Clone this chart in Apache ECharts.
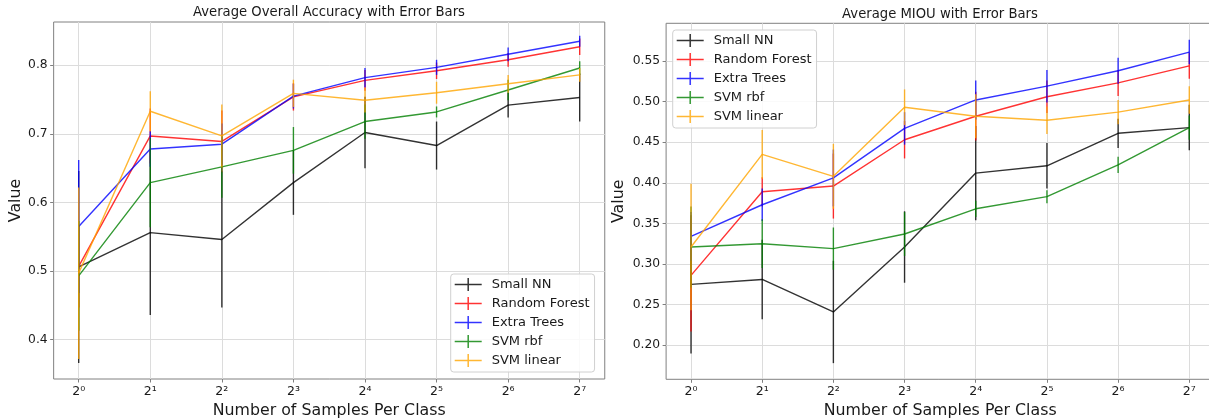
<!DOCTYPE html>
<html>
<head>
<meta charset="utf-8">
<script src="https://cdn.jsdelivr.net/npm/echarts@6/dist/echarts.min.js"></script>
<style>
  html, body { margin: 0; padding: 0; background: #fff; }
  #main { width: 1209px; height: 419px; }
</style>
</head>
<body>
<div id="main"></div>
<script>
// samples per class (x axis is log2 of these)
var samples = [1, 2, 4, 8, 16, 32, 64, 128];
var xTickLabels = ['2⁰', '2¹', '2²', '2³', '2⁴', '2⁵', '2⁶', '2⁷'];
var methods = ['Small NN', 'Random Forest', 'Extra Trees', 'SVM rbf', 'SVM linear'];

// Average overall accuracy (mean / error)
var accSmallNN = [0.506, 0.556, 0.546, 0.629, 0.702, 0.683, 0.742, 0.753];
var accSmallNNErr = [0.140, 0.120, 0.099, 0.047, 0.052, 0.035, 0.018, 0.035];
var accRF = [0.507, 0.697, 0.689, 0.754, 0.778, 0.792, 0.808, 0.827];
var accRFErr = [0.060, 0.040, 0.045, 0.020, 0.015, 0.012, 0.010, 0.012];
var accET = [0.565, 0.678, 0.685, 0.755, 0.782, 0.797, 0.816, 0.835];
var accETErr = [0.097, 0.026, 0.030, 0.018, 0.014, 0.011, 0.010, 0.008];
var accRbf = [0.493, 0.629, 0.652, 0.676, 0.718, 0.732, 0.764, 0.796];
var accRbfErr = [0.080, 0.065, 0.045, 0.034, 0.025, 0.008, 0.015, 0.010];
var accLin = [0.497, 0.733, 0.697, 0.759, 0.749, 0.760, 0.773, 0.786];
var accLinErr = [0.125, 0.029, 0.046, 0.020, 0.018, 0.016, 0.013, 0.010];
var accTicks = [0.4, 0.5, 0.6, 0.7, 0.8];

// Average MIOU (mean / error)
var miouSmallNN = [0.275, 0.281, 0.241, 0.321, 0.412, 0.421, 0.461, 0.468];
var miouSmallNNErr = [0.085, 0.049, 0.063, 0.044, 0.058, 0.028, 0.018, 0.028];
var miouRF = [0.286, 0.389, 0.396, 0.453, 0.482, 0.506, 0.523, 0.544];
var miouRFErr = [0.069, 0.018, 0.040, 0.023, 0.030, 0.020, 0.016, 0.016];
var miouET = [0.334, 0.373, 0.406, 0.467, 0.502, 0.519, 0.538, 0.561];
var miouETErr = [0.030, 0.020, 0.035, 0.020, 0.024, 0.020, 0.016, 0.015];
var miouRbf = [0.321, 0.325, 0.319, 0.337, 0.368, 0.383, 0.422, 0.468];
var miouRbfErr = [0.050, 0.030, 0.026, 0.027, 0.010, 0.008, 0.010, 0.015];
var miouLin = [0.321, 0.435, 0.408, 0.493, 0.482, 0.477, 0.487, 0.502];
var miouLinErr = [0.078, 0.030, 0.040, 0.022, 0.027, 0.017, 0.015, 0.017];
var miouTicks = [0.20, 0.25, 0.30, 0.35, 0.40, 0.45, 0.50, 0.55];

var colors = ['#000000', '#ff0000', '#0000ff', '#008000', '#ffa500'];
var font = 'DejaVu Sans';
var textColor = '#1a1a1a';
var spine = '#808080';

var accMeans = [accSmallNN, accRF, accET, accRbf, accLin];
var accErrs = [accSmallNNErr, accRFErr, accETErr, accRbfErr, accLinErr];
var miouMeans = [miouSmallNN, miouRF, miouET, miouRbf, miouLin];
var miouErrs = [miouSmallNNErr, miouRFErr, miouETErr, miouRbfErr, miouLinErr];

var chart = echarts.init(document.getElementById('main'), null, { renderer: 'canvas' });

function xAxisFor(idx) {
  return {
    type: 'value', gridIndex: idx, min: -0.35, max: 7.35,
    name: 'Number of Samples Per Class', nameLocation: 'middle', nameGap: 24,
    nameTextStyle: { fontFamily: font, fontSize: 15.8, color: textColor },
    axisLine: { show: false, onZero: false },
    axisTick: { show: true, length: 3.5, lineStyle: { color: spine }, customValues: [0, 1, 2, 3, 4, 5, 6, 7] },
    axisLabel: {
      fontFamily: font, fontSize: 12.5, color: textColor, margin: 6,
      customValues: [0, 1, 2, 3, 4, 5, 6, 7],
      formatter: function (v) { return xTickLabels[Math.round(v)]; }
    },
    splitLine: { show: true, lineStyle: { color: '#dcdcdc', width: 1 } }
  };
}

function yAxisFor(idx, min, max, ticks, digits, gap) {
  return {
    type: 'value', gridIndex: idx, min: min, max: max,
    name: 'Value', nameLocation: 'middle', nameGap: gap,
    nameTextStyle: { fontFamily: font, fontSize: 15.8, color: textColor },
    axisLine: { show: false, onZero: false },
    axisTick: { show: true, length: 3.5, lineStyle: { color: spine }, customValues: ticks },
    axisLabel: {
      fontFamily: font, fontSize: 12.3, color: textColor, margin: 6,
      customValues: ticks,
      formatter: function (v) { return v.toFixed(digits); }
    },
    splitLine: { show: true, lineStyle: { color: '#dcdcdc', width: 1 } }
  };
}

function legendFor(left, top) {
  return {
    orient: 'vertical', left: left, top: top,
    data: methods.map(function (m) { return { name: m, icon: 'path://M0,5.75h27v1.5h-27z M12.75,0h1.5v13h-1.5z' }; }),
    itemWidth: 27, itemHeight: 13, itemGap: 6,
    padding: [4, 5, 5, 4],
    backgroundColor: 'rgba(255,255,255,0.85)',
    borderColor: '#d0d0d0', borderWidth: 1, borderRadius: 3,
    textStyle: { fontFamily: font, fontSize: 13, color: textColor, padding: [0, 0, 0, 5] },
    selectedMode: false
  };
}

function seriesFor(idx, means, errs) {
  var out = [];
  methods.forEach(function (m, k) {
    var pts = samples.map(function (n, i) { return [Math.log2(n), means[k][i], errs[k][i]]; });
    out.push({
      type: 'line', name: m, xAxisIndex: idx, yAxisIndex: idx,
      data: pts, showSymbol: false, symbol: 'none', z: 2 + k,
      lineStyle: { color: colors[k], width: 1.4, opacity: 0.8 },
      itemStyle: { color: colors[k], opacity: 0.8 },
      encode: { x: 0, y: 1 }
    });
    out.push({
      type: 'custom', name: m, xAxisIndex: idx, yAxisIndex: idx,
      data: pts, z: 2 + k,
      encode: { x: 0, y: 1 },
      renderItem: function (params, api) {
        var x = api.value(0), y = api.value(1), e = api.value(2);
        var lo = api.coord([x, y - e]);
        var hi = api.coord([x, y + e]);
        return {
          type: 'line',
          shape: { x1: lo[0], y1: lo[1], x2: hi[0], y2: hi[1] },
          style: { stroke: colors[k], lineWidth: 1.4, opacity: 0.8 }
        };
      }
    });
  });
  return out;
}

var option = {
  animation: false,
  backgroundColor: '#fff',
  title: [
    { text: 'Average Overall Accuracy with Error Bars', left: 324, top: 1, textAlign: 'center',
      textStyle: { fontFamily: font, fontSize: 13.2, fontWeight: 'normal', color: textColor } },
    { text: 'Average MIOU with Error Bars', left: 935, top: 3, textAlign: 'center',
      textStyle: { fontFamily: font, fontSize: 13.2, fontWeight: 'normal', color: textColor } }
  ],
  grid: [
    { left: 53.65, top: 22, width: 551.1, height: 357, show: true, borderColor: spine, borderWidth: 1, outerBoundsMode: 'none' },
    { left: 666.1, top: 23.3, width: 548.1, height: 356, show: true, borderColor: spine, borderWidth: 1, outerBoundsMode: 'none' }
  ],
  xAxis: [xAxisFor(0), xAxisFor(1)],
  yAxis: [
    yAxisFor(0, 0.3427, 0.8631, accTicks, 1, 30),
    yAxisFor(1, 0.1581, 0.5964, miouTicks, 2, 39)
  ],
  legend: [legendFor(450.7, 274), legendFor(672.7, 30)],
  series: seriesFor(0, accMeans, accErrs).concat(seriesFor(1, miouMeans, miouErrs))
};

chart.setOption(option);
</script>
</body>
</html>
